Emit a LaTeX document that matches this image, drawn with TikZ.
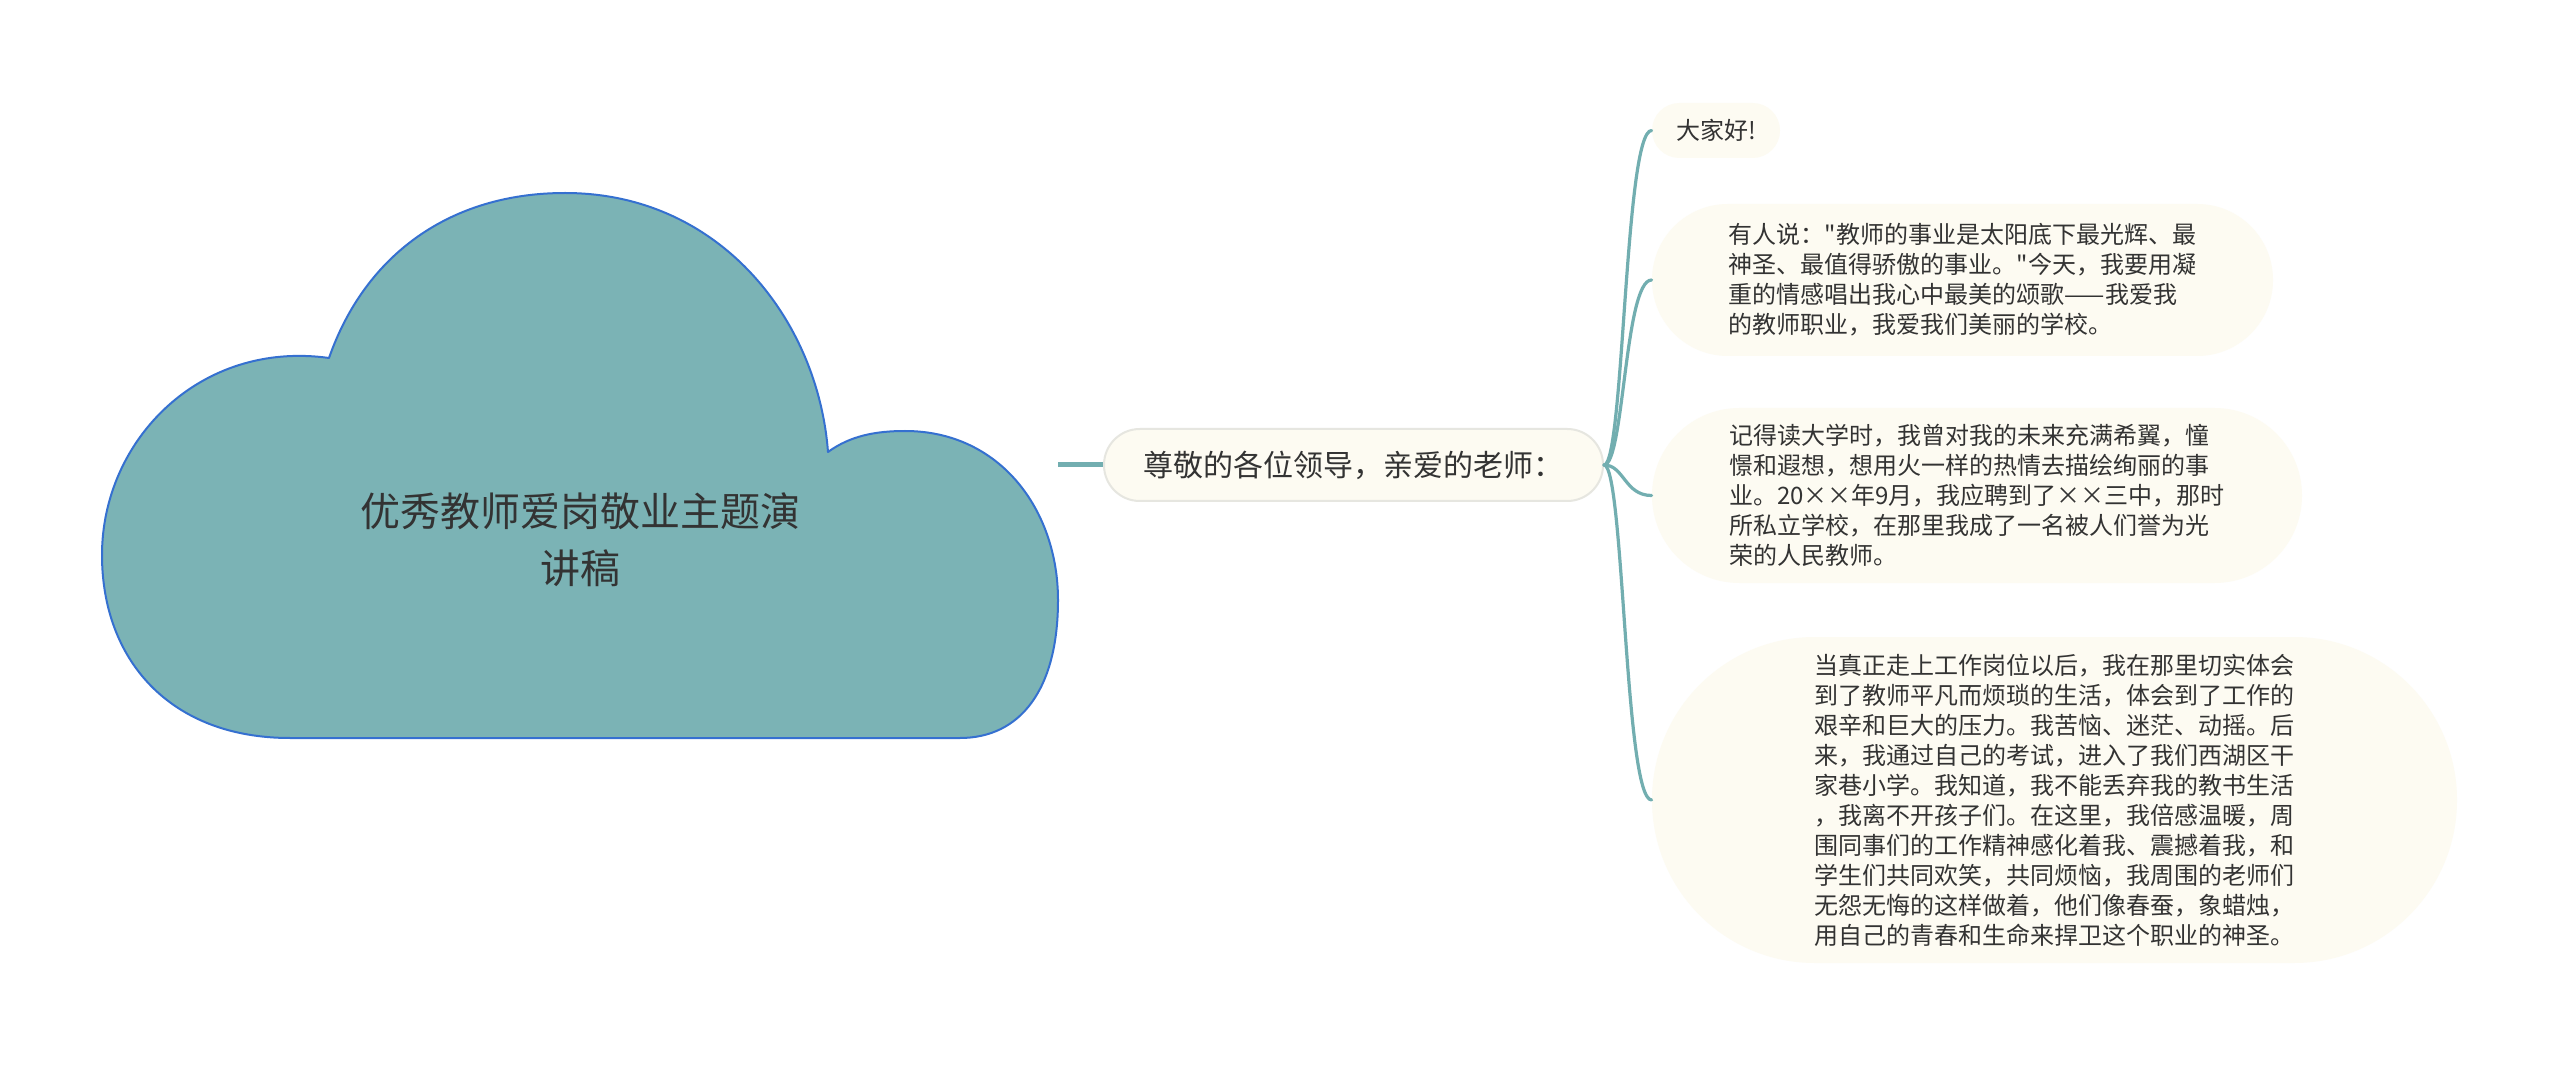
\documentclass[tikz,border=0pt]{standalone}
\usepackage{fontspec}
\newfontfamily\cjk{Noto Sans CJK SC}
\definecolor{cloudfill}{HTML}{7BB3B5}
\definecolor{cloudline}{HTML}{3570D0}
\definecolor{conn}{HTML}{72AEB0}
\definecolor{nodefill}{HTML}{FDFBF2}
\definecolor{nodeline}{HTML}{E6E6E0}
\definecolor{txt}{HTML}{333333}
\begin{document}
\begin{tikzpicture}[x=0.5pt,y=-0.5pt,
  cloudshape/.style={fill=cloudfill,draw=cloudline,line width=1pt,line join=round},
  topic/.style={font=\cjk\fontsize{20}{28.5}\selectfont,text=txt,align=center,inner sep=0pt},
  mainnode/.style={rectangle,rounded corners=17.9pt,fill=nodefill,draw=nodeline,line width=1pt,
    minimum width=249.5pt,minimum height=36pt,inner sep=0pt,
    font=\cjk\fontsize{15}{18}\selectfont,text=txt},
  leaf/.style={rectangle,fill=nodefill,draw=none,inner sep=0pt,align=left,
    font=\cjk\fontsize{12}{15}\selectfont,text=txt},
  trunk/.style={draw=conn,line width=2.5pt},
  branch/.style={draw=conn,line width=1.6pt,line cap=round}]
\useasboundingbox[fill=white] (0,0) rectangle (2560,1069);

% cloud
\path[cloudshape] (290,738) .. controls (170,738) and (102,660) .. (102,555)
  .. controls (102,440) and (200,340) .. (329,358)
  .. controls (365,255) and (450,193) .. (565,193)
  .. controls (720,193) and (818,320) .. (828,452)
  .. controls (850,436) and (875,431) .. (905,431)
  .. controls (1000,431) and (1058,510) .. (1058,600)
  .. controls (1058,690) and (1020,738) .. (960,738) -- cycle;
\node[topic] (title) at (580,540) {优秀教师爱岗敬业主题演\\讲稿};
\coordinate (cloudE) at (1058,465);

% main node
\node[mainnode] (m) at (1353.5,465) {尊敬的各位领导，亲爱的老师：};

% leaves
\node[leaf,minimum width=64pt,minimum height=27.5pt,rounded corners=13.7pt] (c1) at (1716,130.5) {大家好!};
\node[leaf,minimum width=310.5pt,minimum height=76pt,rounded corners=37.9pt] (c2) at (1962.5,280)
 {有人说："教师的事业是太阳底下最光辉、最\\神圣、最值得骄傲的事业。"今天，我要用凝\\重的情感唱出我心中最美的颂歌——我爱我\\的教师职业，我爱我们美丽的学校。};
\node[leaf,minimum width=325pt,minimum height=87.5pt,rounded corners=43.7pt] (c3) at (1977,495.5)
 {记得读大学时，我曾对我的未来充满希翼，憧\\憬和遐想，想用火一样的热情去描绘绚丽的事\\业。20××年9月，我应聘到了××三中，那时\\所私立学校，在那里我成了一名被人们誉为光\\荣的人民教师。};
\node[leaf,minimum width=402.5pt,minimum height=163pt,rounded corners=81.4pt] (c4) at (2054.5,800)
 {当真正走上工作岗位以后，我在那里切实体会\\到了教师平凡而烦琐的生活，体会到了工作的\\艰辛和巨大的压力。我苦恼、迷茫、动摇。后\\来，我通过自己的考试，进入了我们西湖区干\\家巷小学。我知道，我不能丢弃我的教书生活\\，我离不开孩子们。在这里，我倍感温暖，周\\围同事们的工作精神感化着我、震撼着我，和\\学生们共同欢笑，共同烦恼，我周围的老师们\\无怨无悔的这样做着，他们像春蚕，象蜡烛，\\用自己的青春和生命来捍卫这个职业的神圣。};

% connectors
\draw[trunk] (cloudE) -- (m.west);
\foreach \c in {c1,c2,c3,c4}
  \draw[branch] (m.east) .. controls +(20,0) and +(-27,0) .. (\c.west);
\end{tikzpicture}
\end{document}
